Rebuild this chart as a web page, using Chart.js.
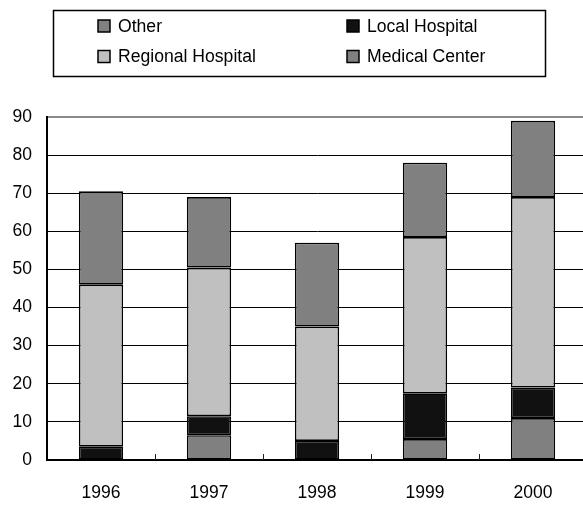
<!DOCTYPE html>
<html>
<head>
<meta charset="utf-8">
<script src="https://cdn.jsdelivr.net/npm/chart.js@4"></script>
<style>
  html, body { margin: 0; padding: 0; overflow: hidden; background: #fff; }
  #wrap { width: 587px; height: 505px; }
</style>
</head>
<body>
<div id="wrap"><canvas id="myChart"></canvas></div>
<script>
const years = ['1996', '1997', '1998', '1999', '2000'];
const other = [0, 6.5, 0, 5.5, 11];
const localHospital = [3.5, 5, 5, 12, 8];
const regionalHospital = [42.5, 39, 30, 41, 50];
const medicalCenter = [24.5, 18.5, 22, 19.5, 20];
const yMin = 0;
const yMax = 90;
const yStep = 10;

const font = '"Liberation Sans", Arial, sans-serif';

// boxed legend, two columns, drawn above the plot
const boxLegend = {
  id: 'boxLegend',
  afterDraw(chart) {
    const ctx = chart.ctx;
    const cols = [98, 347];
    const rows = [26, 56.5];
    ctx.save();
    ctx.strokeStyle = '#000';
    ctx.lineWidth = 1.5;
    ctx.strokeRect(53.5, 10.5, 492, 66);
    ctx.font = '17.6px ' + font;
    ctx.textBaseline = 'middle';
    chart.data.datasets.forEach((ds, i) => {
      const x = cols[i % 2];
      const y = rows[Math.floor(i / 2)];
      ctx.fillStyle = ds.backgroundColor;
      ctx.fillRect(x, y - 6, 12, 12);
      ctx.lineWidth = 1.5;
      ctx.strokeRect(x, y - 6, 12, 12);
      ctx.fillStyle = '#000';
      ctx.fillText(ds.label, x + 20, y + 1);
    });
    ctx.restore();
  }
};

// short tick marks pointing up from the x axis between the years
const innerTicks = {
  id: 'innerTicks',
  afterDatasetsDraw(chart) {
    const ctx = chart.ctx;
    const xs = chart.scales.x;
    const bottom = chart.chartArea.bottom;
    const half = (xs.getPixelForValue(1) - xs.getPixelForValue(0)) / 2;
    ctx.save();
    ctx.strokeStyle = '#222';
    ctx.lineWidth = 1;
    for (let i = 1; i < years.length; i++) {
      const px = Math.round(xs.getPixelForValue(i) - half) + 0.5;
      ctx.beginPath();
      ctx.moveTo(px, bottom - 6);
      ctx.lineTo(px, bottom);
      ctx.stroke();
    }
    ctx.restore();
  }
};

const barStyle = {
  borderColor: '#000',
  borderWidth: ctx => (ctx.raw ? 1.6 : 0),
  borderSkipped: false,
  barPercentage: 0.41,
  categoryPercentage: 1
};

const data = {
  labels: years,
  datasets: [
    { label: 'Other', data: other, backgroundColor: '#808080', ...barStyle },
    { label: 'Local Hospital', data: localHospital, backgroundColor: '#111111', ...barStyle },
    { label: 'Regional Hospital', data: regionalHospital, backgroundColor: '#c0c0c0', ...barStyle },
    { label: 'Medical Center', data: medicalCenter, backgroundColor: '#808080', ...barStyle }
  ]
};

const config = {
  type: 'bar',
  data: data,
  options: {
    responsive: true,
    maintainAspectRatio: false,
    animation: false,
    layout: { padding: { top: 117, left: 0, right: 0, bottom: 0 } },
    plugins: {
      legend: { display: false },
      tooltip: { enabled: false }
    },
    scales: {
      x: {
        stacked: true,
        grid: { display: false },
        border: { color: '#000', width: 2 },
        ticks: { color: '#000', font: { family: font, size: 17.5 }, padding: 15 },
        afterFit(scale) { scale.height = 45; }
      },
      y: {
        stacked: true,
        min: yMin,
        max: yMax,
        grid: {
          drawTicks: false,
          color: ctx => ctx.tick && ctx.tick.value === yMax ? '#8a8a8a' : '#000',
          lineWidth: ctx => ctx.tick && ctx.tick.value === yMax ? 2 : 1
        },
        border: { color: '#000', width: 2 },
        ticks: { stepSize: yStep, color: '#000', font: { family: font, size: 17.5 }, padding: 15 },
        afterFit(scale) { scale.width = 47; }
      }
    }
  },
  plugins: [boxLegend, innerTicks]
};

const chart = new Chart(document.getElementById('myChart'), config);
</script>
</body>
</html>
